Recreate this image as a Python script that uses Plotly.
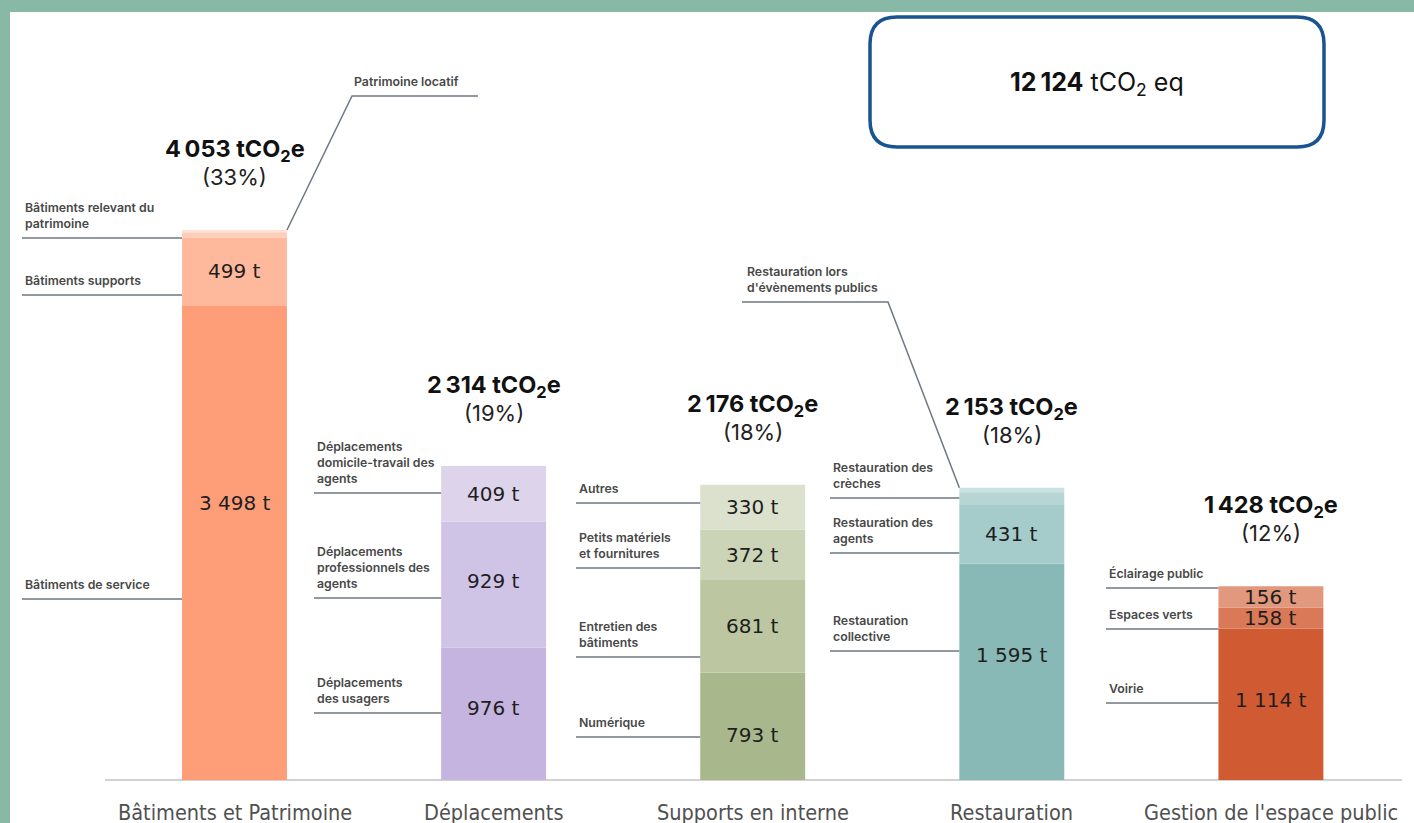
import plotly.graph_objects as go

# ---------------- data ----------------
categories = ["Bâtiments et Patrimoine", "Déplacements", "Supports en interne",
              "Restauration", "Gestion de l'espace public"]

bat_labels = ["Bâtiments de service", "Bâtiments supports",
              "Bâtiments relevant du patrimoine", "Patrimoine locatif"]
bat_values = [3498, 499, 40, 16]

dep_labels = ["Déplacements des usagers", "Déplacements professionnels des agents",
              "Déplacements domicile-travail des agents"]
dep_values = [976, 929, 409]

sup_labels = ["Numérique", "Entretien des bâtiments",
              "Petits matériels et fournitures", "Autres"]
sup_values = [793, 681, 372, 330]

res_labels = ["Restauration collective", "Restauration des agents",
              "Restauration des crèches", "Restauration lors d'évènements publics"]
res_values = [1595, 431, 95, 32]

esp_labels = ["Voirie", "Espaces verts", "Éclairage public"]
esp_values = [1114, 158, 156]

# ---------------- styles ----------------
bat_colors = ["#FE9E79", "#FEB89C", "#FFCDB8", "#FFE2D5"]
dep_colors = ["#C4B4DF", "#D0C4E6", "#DDD4EC"]
sup_colors = ["#A8B88C", "#BCC7A2", "#CCD4B7", "#DCE1CD"]
res_colors = ["#88B9B6", "#A5CBCA", "#B7D5D5", "#CBE1E0"]
esp_colors = ["#D05B33", "#DA7957", "#E1987C"]

groups = [
    (bat_labels, bat_values, bat_colors),
    (dep_labels, dep_values, dep_colors),
    (sup_labels, sup_values, sup_colors),
    (res_labels, res_values, res_colors),
    (esp_labels, esp_values, esp_colors),
]

W, H = 1414, 823
ML, MT = 10, 12
PLOT_W, PLOT_H = W - ML, H - MT
BASE_PX = 780          # pixel row of the zero line
PX_PER_T = 0.13570     # vertical scale (px per tonne)
PX_PER_X = 259.1       # horizontal scale (px per category)
FIRST_PX = 234.5       # pixel column of first category centre
BW = 0.405             # bar width (category units)

X0 = -(FIRST_PX - ML) / PX_PER_X
X1 = X0 + PLOT_W / PX_PER_X
Y0 = -(H - BASE_PX) / PX_PER_T
Y1 = (BASE_PX - MT) / PX_PER_T


def xv(px):
    return X0 + (px - ML) / PX_PER_X


def yv(py):
    return (BASE_PX - py) / PX_PER_T


def fmt(n, sep=" "):
    return f"{n:,}".replace(",", sep)


LEADER_COLOR = "#6F7782"
LABEL_FONT = dict(family="Inter, Lato, sans-serif", size=12.3, color="#484848", weight=600)
VAL_FONT = dict(family="DejaVu Sans, sans-serif", size=20, color="#1E1E1E")
TOT_FONT = "Inter, Lato, sans-serif"
CAT_FONT = dict(family="Liberation Sans Narrow, DejaVu Sans Condensed, sans-serif", size=21.5, color="#505050")

wrapped = {
    "Bâtiments relevant du patrimoine": "Bâtiments relevant du<br>patrimoine",
    "Déplacements des usagers": "Déplacements<br>des usagers",
    "Déplacements professionnels des agents": "Déplacements<br>professionnels des<br>agents",
    "Déplacements domicile-travail des agents": "Déplacements<br>domicile-travail des<br>agents",
    "Entretien des bâtiments": "Entretien des<br>bâtiments",
    "Petits matériels et fournitures": "Petits matériels<br>et fournitures",
    "Restauration collective": "Restauration<br>collective",
    "Restauration des agents": "Restauration des<br>agents",
    "Restauration des crèches": "Restauration des<br>crèches",
    "Restauration lors d'évènements publics": "Restauration lors<br>d'évènements publics",
}

# leader lines: (line left px, [line row px per segment, None = special diagonal])
leaders = [
    (22, [599, 295, 238, None]),
    (314, [713, 598, 493]),
    (576, [737, 657, 568, 503]),
    (830, [651, 553, 498, None]),
    (1106, [703, 629, 588]),
]

# vertical nudges (px, up positive) of in-bar value labels
val_shift = {(0, 0): 40, (1, 0): 6, (1, 1): 4, (2, 0): -9, (3, 0): 17, (4, 0): 4}

fig = go.Figure()
annotations = []
shapes = []

# baseline
shapes.append(dict(type="line", xref="x", yref="y", x0=xv(105), x1=xv(1402), y0=0, y1=0,
                   line=dict(color="#D2D2D2", width=2), layer="below"))

grand_total = sum(sum(v) for _, v, _ in groups)

for i, (labels, values, colors) in enumerate(groups):
    base = 0
    for j, (lab, v, c) in enumerate(zip(labels, values, colors)):
        fig.add_trace(go.Bar(x=[i], y=[v], base=[base], width=BW, name=lab,
                             marker=dict(color=c, line=dict(width=0)),
                             hovertemplate=f"{lab}: {fmt(v)} t<extra></extra>",
                             showlegend=False))
        if v >= 150:
            annotations.append(dict(x=i, y=base + v / 2, xref="x", yref="y",
                                    text=f"{fmt(v)} t", showarrow=False,
                                    yshift=val_shift.get((i, j), 0), font=VAL_FONT))
        base += v
    total = base
    pct = round(100 * total / grand_total)
    annotations.append(dict(x=i, y=total, xref="x", yref="y", showarrow=False,
                            text=f"<b>{fmt(total, chr(0x202f))} tCO<sub>2</sub>e</b>",
                            yshift=80, yanchor="middle",
                            font=dict(family=TOT_FONT, size=23.5, color="#111111")))
    annotations.append(dict(x=i, y=total, xref="x", yref="y", showarrow=False,
                            text=f"({pct}%)", yshift=53, yanchor="middle",
                            font=dict(family=TOT_FONT, size=22, color="#222222")))

    # leaders
    left_px, rows = leaders[i]
    bar_left = i - BW / 2
    for j, lab in enumerate(labels):
        row = rows[j]
        if row is None:
            continue
        shapes.append(dict(type="line", xref="x", yref="y", x0=xv(left_px), x1=bar_left,
                           y0=yv(row), y1=yv(row), line=dict(color=LEADER_COLOR, width=1.5)))
        annotations.append(dict(x=xv(left_px + 1), y=yv(row), xref="x", yref="y",
                                text=wrapped.get(lab, lab), showarrow=False,
                                xanchor="left", yanchor="bottom", align="left",
                                yshift=5, font=LABEL_FONT))

# special diagonal leaders for the thin top segments
tot0 = sum(bat_values)
shapes.append(dict(type="path", xref="x", yref="y",
                   path=f"M {xv(478)},{yv(96)} L {xv(352)},{yv(96)} L {0 + BW / 2},{tot0}",
                   line=dict(color=LEADER_COLOR, width=1.5)))
annotations.append(dict(x=xv(352), y=yv(96), xref="x", yref="y", text=bat_labels[3],
                        showarrow=False, xanchor="left", yanchor="bottom", yshift=5,
                        font=LABEL_FONT))
tot3 = sum(res_values)
shapes.append(dict(type="path", xref="x", yref="y",
                   path=f"M {xv(742)},{yv(302)} L {xv(888)},{yv(302)} L {3 - BW / 2},{tot3}",
                   line=dict(color=LEADER_COLOR, width=1.5)))
annotations.append(dict(x=xv(745), y=yv(302), xref="x", yref="y",
                        text=wrapped[res_labels[3]], showarrow=False, xanchor="left",
                        yanchor="bottom", align="left", yshift=5, font=LABEL_FONT))

# category names
for i, cat in enumerate(categories):
    annotations.append(dict(x=i, y=yv(812), xref="x", yref="y", text=cat,
                            showarrow=False, yanchor="middle", font=CAT_FONT))

# rounded total box
bx0, bx1 = xv(870), xv(1324)
by_top, by_bot = yv(17), yv(147)
rx, ry = 27 / PX_PER_X, 27 / PX_PER_T
box_path = (f"M {bx0 + rx},{by_top} L {bx1 - rx},{by_top} Q {bx1},{by_top} {bx1},{by_top - ry} "
            f"L {bx1},{by_bot + ry} Q {bx1},{by_bot} {bx1 - rx},{by_bot} "
            f"L {bx0 + rx},{by_bot} Q {bx0},{by_bot} {bx0},{by_bot + ry} "
            f"L {bx0},{by_top - ry} Q {bx0},{by_top} {bx0 + rx},{by_top} Z")
shapes.append(dict(type="path", xref="x", yref="y", path=box_path,
                   line=dict(color="#1A5490", width=3.5), fillcolor="rgba(0,0,0,0)"))
annotations.append(dict(x=(bx0 + bx1) / 2, y=yv(83), xref="x", yref="y",
                        text=f"<b>{fmt(grand_total, chr(0x202f))}</b> tCO<sub>2</sub> eq",
                        showarrow=False, yanchor="middle",
                        font=dict(family=TOT_FONT, size=25, color="#111111")))

fig.update_layout(
    width=W, height=H,
    margin=dict(l=ML, r=0, t=MT, b=0, pad=0),
    paper_bgcolor="#88B8A6",
    plot_bgcolor="#FFFFFF",
    barmode="overlay",
    xaxis=dict(range=[X0, X1], visible=False, fixedrange=True),
    yaxis=dict(range=[Y0, Y1], visible=False, fixedrange=True),
    shapes=shapes,
    annotations=annotations,
    showlegend=False,
)

fig.write_html("out.html", config={"displayModeBar": False},
               post_script="document.body.style.margin='0';document.body.style.overflow='hidden';")
